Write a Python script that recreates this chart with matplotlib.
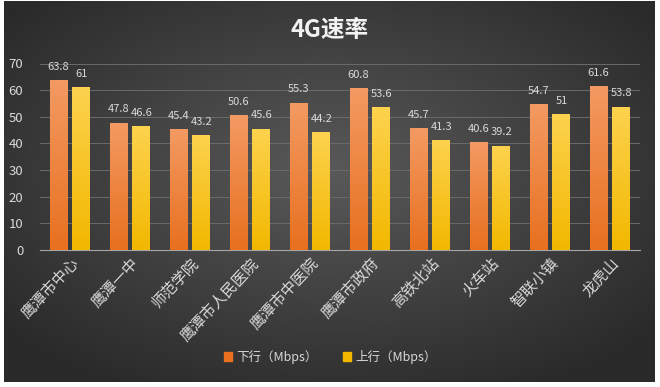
import numpy as np
import matplotlib
matplotlib.use('Agg')
import matplotlib.pyplot as plt
from matplotlib.colors import LinearSegmentedColormap
from matplotlib.patches import Rectangle

plt.rcParams['font.family'] = ['Noto Sans CJK SC', 'DejaVu Sans']

categories = ['鹰潭市中心', '鹰潭一中', '师范学院', '鹰潭市人民医院', '鹰潭市中医院',
              '鹰潭市政府', '高铁北站', '火车站', '智联小镇', '龙虎山']
down = [63.8, 47.8, 45.4, 50.6, 55.3, 60.8, 45.7, 40.6, 54.7, 61.6]
up = [61, 46.6, 43.2, 45.6, 44.2, 53.6, 41.3, 39.2, 51, 53.8]
series_names = ['下行（Mbps）', '上行（Mbps）']

ORANGE = ('#e8701f', '#f39a62')
YELLOW = ('#f2b800', '#fdd24e')
TXT = '#d9d9d9'

fig = plt.figure(figsize=(6.6, 3.87), dpi=100)
fig.patch.set_facecolor('white')

# dark radial gradient background with thin white frame
bg = fig.add_axes([4 / 660, 5 / 387, 651 / 660, 381 / 387])
yy, xx = np.mgrid[-1:1:200j, -1:1:300j]
r = np.sqrt(xx ** 2 + (yy + 0.1) ** 2)
bg_cmap = LinearSegmentedColormap.from_list('bg', ['#595959', '#2a2a2a'])
bg.imshow(r, cmap=bg_cmap, aspect='auto', extent=(0, 1, 0, 1), vmin=0, vmax=1.3)
bg.set_axis_off()

ax = fig.add_axes([40 / 660, 137 / 387, 600 / 660, 186.5 / 387])
ax.set_facecolor('none')
x = np.arange(len(categories))
w = 0.3
off = 0.19


def grad_bars(xs, vals, cols):
    cmap = LinearSegmentedColormap.from_list('b', cols)
    grad = np.linspace(0, 1, 100).reshape(-1, 1)
    for xc, v in zip(xs, vals):
        im = ax.imshow(grad, cmap=cmap, aspect='auto', origin='lower',
                       extent=(xc - w / 2, xc + w / 2, 0, v), zorder=3)
        clip = Rectangle((xc - w / 2, 0), w, v, transform=ax.transData)
        im.set_clip_path(clip)
        ax.annotate(f'{v:g}', (xc, v), xytext=(0, 9.5), textcoords='offset points',
                    ha='center', va='center', fontsize=8, color=TXT, zorder=4)


grad_bars(x - off, down, ORANGE)
grad_bars(x + off, up, YELLOW)

ax.set_xlim(-0.5, len(categories) - 0.5)
ax.set_ylim(0, 70)
ax.set_yticks(range(0, 71, 10))
ax.yaxis.grid(True, color='#6a6a6a', lw=0.7, zorder=0)
ax.set_axisbelow(True)
for s in ['top', 'right', 'left']:
    ax.spines[s].set_visible(False)
ax.spines['bottom'].set_color('#a6a6a6')
ax.tick_params(axis='both', length=0, colors=TXT, labelsize=9.5)
ax.tick_params(axis='y', pad=12)
ax.set_xticks(x)
ax.set_xticklabels(categories, rotation=47, ha='right', va='top',
                   rotation_mode='anchor', fontsize=11, color=TXT)

fig.text(0.5, 0.922, '4G速率', ha='center', va='center', fontsize=17,
         fontweight='bold', color='#f2f2f2')

handles = [Rectangle((0, 0), 1, 1, color=ORANGE[0]), Rectangle((0, 0), 1, 1, color=YELLOW[0])]
fig.legend(handles, series_names, loc='center', bbox_to_anchor=(0.5, 1 - 357 / 387),
           ncol=2, frameon=False, fontsize=9, labelcolor=TXT, handlelength=0.7,
           handleheight=0.7, handletextpad=0.3, columnspacing=2.0)

plt.savefig('out.png', dpi=100)
